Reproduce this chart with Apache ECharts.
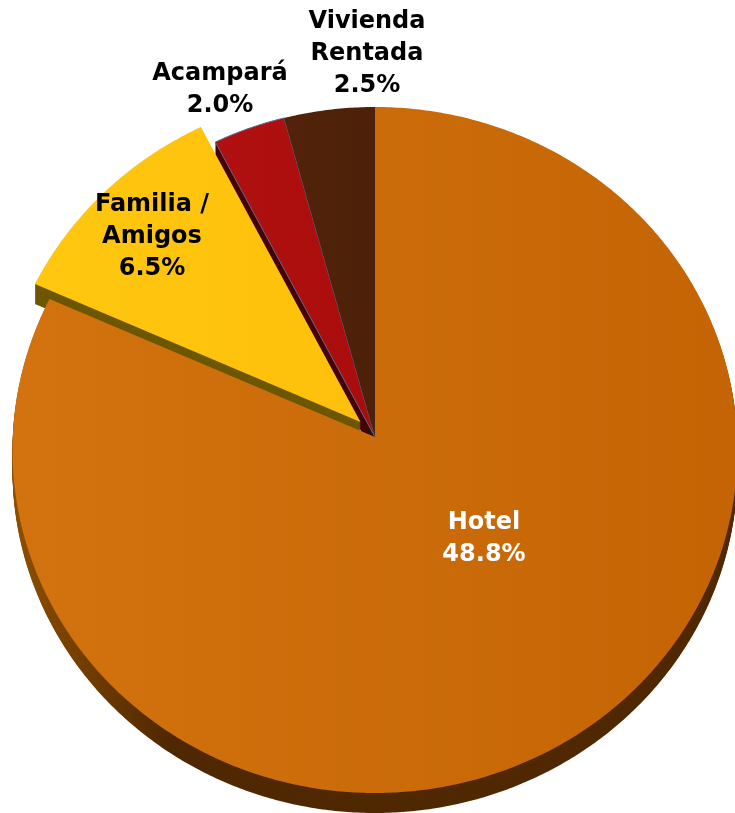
<!DOCTYPE html>
<html>
<head>
<meta charset="utf-8">
<title>Hospedaje</title>
<script src="https://cdn.jsdelivr.net/npm/echarts@6/dist/echarts.min.js"></script>
<style>
    html, body { margin: 0; padding: 0; background: #fff; }
    #main { width: 735px; height: 813px; overflow: hidden; }
</style>
</head>
<body>
<div id="main"></div>
<script>
// datos, en sentido horario desde arriba
const categories = ['Hotel', 'Familia /\nAmigos', 'Acampará', 'Vivienda\nRentada'];
const values = [48.8, 6.5, 2.0, 2.5];

const topColors = [
    ['#d2730f', '#c46404'],
    ['#ffc70f', '#fec00c'],
    ['#b01010', '#aa0c0c'],
    ['#522309', '#4c2009']
];
const sideColors = [
    ['#8f4f00', '#4f2700', '#4f2700'],
    ['#6c5600', '#6c5600', '#6c5600'],
    ['#460000', '#460000', '#460000'],
    ['#2c1204', '#2c1204', '#2c1204']
];
const textColors = ['#fff', '#000', '#000', '#000'];
// centro de cada etiqueta en pixeles
const labelCenters = [[484, 539], [152, 237], [220, 90], [367, 54]];
// separacion del sector Familia / Amigos
const explode = [[0, 0], [-14.5, -15], [0, 0], [0, 0]];

// el disco es una elipse y el vertice queda un poco arriba de su centro (perspectiva)
const cx = 375, cy = 450, rx = 362.5, ry = 343;
const apex = [375, 437];
const depth = 20;
const squeeze = 0.965;

const total = values.reduce(function (a, b) { return a + b; }, 0);
const hotelEnd = values[0] / total * 360;

function rimPoint(deg) {
    // los sectores chicos de la izquierda se ven un poco comprimidos y Hotel estirado
    const hotelEndSeen = 360 - (360 - hotelEnd) * squeeze;
    const seen = deg <= hotelEnd ? deg * hotelEndSeen / hotelEnd : 360 - (360 - deg) * squeeze;
    const t = seen * Math.PI / 180;
    return [cx + rx * Math.sin(t), cy - ry * Math.cos(t)];
}

function sectorPoints(index, dx, dy) {
    let start = 0;
    for (let i = 0; i < index; i++) {
        start += values[i] / total * 360;
    }
    const end = start + values[index] / total * 360;
    const points = [[apex[0] + dx, apex[1] + dy]];
    const steps = Math.ceil(end - start) * 2;
    for (let i = 0; i <= steps; i++) {
        const p = rimPoint(start + (end - start) * i / steps);
        points.push([p[0] + dx, p[1] + dy]);
    }
    return points;
}

// el canto se arma apilando copias del sector, hacia abajo
function renderSide(params, api) {
    const i = params.dataIndex;
    const c = sideColors[i];
    const children = [];
    for (let d = depth; d >= 1; d--) {
        children.push({
            type: 'polygon',
            // Familia va encima del canto de Acampará
            z2: i === 1 ? 5 : 1,
            shape: { points: sectorPoints(i, explode[i][0], explode[i][1] + d) },
            style: {
                fill: new echarts.graphic.LinearGradient(0, 0, 1, 0, [
                    { offset: 0, color: c[0] },
                    { offset: 0.22, color: c[1] },
                    { offset: 1, color: c[2] }
                ])
            }
        });
    }
    return { type: 'group', children: children };
}

function renderTop(params, api) {
    const i = params.dataIndex;
    const c = topColors[i];
    return {
        type: 'polygon',
        shape: { points: sectorPoints(i, explode[i][0], explode[i][1]) },
        style: {
            fill: new echarts.graphic.LinearGradient(0, 0, 1, 0, [
                { offset: 0, color: c[0] },
                { offset: 1, color: c[1] }
            ]),
            stroke: i === 2 ? '#5a6a92' : null,
            lineWidth: 1
        }
    };
}

function renderLabel(params, api) {
    const i = params.dataIndex;
    return {
        type: 'text',
        x: labelCenters[i][0],
        y: labelCenters[i][1],
        style: {
            text: categories[i] + '\n' + api.value(0).toFixed(1) + '%',
            fill: textColors[i],
            font: 'bold 24px "DejaVu Sans"',
            lineHeight: 32,
            align: 'center',
            verticalAlign: 'middle'
        }
    };
}

const chart = echarts.init(document.getElementById('main'), null, { renderer: 'canvas' });
chart.setOption({
    animation: false,
    series: [
        { type: 'custom', coordinateSystem: 'none', silent: true, data: values, renderItem: renderSide, z: 1 },
        { type: 'custom', coordinateSystem: 'none', silent: true, data: values, renderItem: renderTop, z: 2 },
        { type: 'custom', coordinateSystem: 'none', silent: true, data: values, renderItem: renderLabel, z: 3 }
    ]
});
</script>
</body>
</html>
